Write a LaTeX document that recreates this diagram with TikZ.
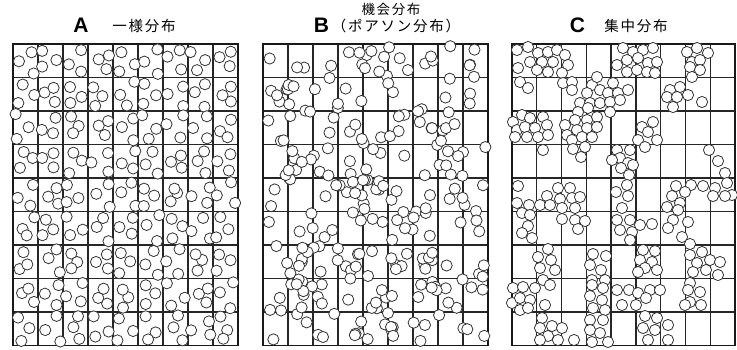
\documentclass[tikz,border=0pt]{standalone}
\usepackage{fontspec}
\newfontfamily\cjk{Noto Sans CJK JP}[LetterSpace=12]
\newfontfamily\lat{Liberation Sans}
\newcommand\panelgrid[2]{%
  \foreach \i in {1,...,8} \draw[gridline] ({#1+\i*#2},44) -- ({#1+\i*#2},345.5);
  \foreach \j in {1,...,8} \draw[gridline] (#1,{44+\j*33.5}) -- ({#1+9*#2},{44+\j*33.5});
  \draw[border] (#1,44) rectangle ({#1+9*#2},345.5);}
\begin{document}
\begin{tikzpicture}[x=1pt,y=-1pt,
  gridline/.style={line width=1.4pt,black!85},
  border/.style={line width=1.6pt,black!90},
  dot/.style={draw=black!80,line width=0.8pt,fill=white},
  letter/.style={inner sep=0pt,font=\lat\bfseries\fontsize{21}{21}\selectfont},
  jtitle/.style={inner sep=0pt,font=\cjk\fontsize{14.5}{15}\selectfont}]
\useasboundingbox (0,0) rectangle (737,349);
% titles
\node[letter] (tA) at (81,25.5) {A};
\node[jtitle] (jA) at (144,26) {一様分布};
\node[jtitle,font=\cjk\fontsize{13.5}{14}\selectfont] (jB1) at (391,9.5) {機会分布};
\node[letter] (tB) at (321.5,25.5) {B};
\node[jtitle] (jB2) at (396,25.5) {（ポアソン分布）};
\node[letter] (tC) at (577.5,25.5) {C};
\node[jtitle] (jC) at (636,26) {集中分布};
% grids
\panelgrid{13}{25}
\panelgrid{263}{25}
\panelgrid{512}{24.78}
% A: uniform (about three circles in every cell)
\pgfmathsetseed{4711}
\foreach \i in {0,...,8}{\foreach \j in {0,...,8}{
  \pgfmathsetmacro\fx{rnd<0.5?1:-1}
  \pgfmathsetmacro\fy{rnd<0.5?1:-1}
  \foreach \px/\py in {6.5/7,18/16.5,7.5/26}{
    \pgfmathsetmacro\cx{13+25*\i+12.5+\fx*(\px-12.5)+4*rand}
    \pgfmathsetmacro\cy{44+33.5*\j+16.75+\fy*(\py-16.75)+4*rand}
    \draw[dot] (\cx,\cy) circle[radius=5.6];}}}
% B: random (Poisson)
\foreach \k in {1,...,245}{
  \pgfmathsetmacro\cx{265+221*rnd}
  \pgfmathsetmacro\cy{46+297*rnd}
  \draw[dot] (\cx,\cy) circle[radius=5.6];}
% C: clustered
\foreach \p in {(517,50),(528,47),(538,53),(548,52),(557,50),(565,55),(530,62),(542,62),(553,62),(568,65),
  (518,68),(537,70),(548,72),(562,73),(520,82),(528,88),(563,83),(572,82),(572,90),
  (592,85),(597,77),(600,90),(587,93),(608,93),(613,83),(618,93),(628,90),(580,103),(590,103),
  (600,103),(610,102),(620,100),(578,112),(588,108),(597,117),(610,112),(587,120),
  (623,48),(633,52),(643,50),(653,48),(617,65),(627,60),(638,58),(648,63),(657,62),(627,72),
  (637,70),(647,72),(655,73),
  (687,52),(697,48),(708,53),(692,62),(700,60),(690,67),(700,70),(692,77),
  (670,90),(680,87),(667,97),(677,97),(688,95),(673,107),(702,102),
  (513,122),(522,115),(530,118),(543,117),(517,130),(525,127),(535,128),(547,125),(515,137),
  (527,137),(538,137),(548,135),
  (565,125),(575,120),(567,135),(577,130),(587,128),(597,127),(572,140),(582,137),(592,137),
  (653,122),(642,127),(648,132),(638,140),(657,140),
  (543,150),(573,149),(585,147),(581,157),
  (617,150),(630,150),(620,158),(612,160),(628,163),(621,168),(633,165),(629,175),(645,147),
  (709,150),(718,161),(725,173),
  (518,186),(517,203),(529,205),(522,213),(530,215),(528,226),(522,233),(532,238),
  (558,188),(570,188),(547,196),(560,199),(572,198),(580,197),(540,205),(550,205),(562,208),
  (575,208),(562,219),(575,220),(585,221),(578,229),
  (627,185),(616,192),(628,196),(622,208),(617,220),(630,220),(620,230),(632,232),(630,240),
  (640,225),(652,224),
  (676,186),(691,185),(703,186),(715,188),(727,183),(732,195),(713,196),(725,196),(685,192),
  (672,196),(680,203),(667,207),(678,210),(673,220),(688,222),(668,228),(682,237),(690,244),
  (548,249),(538,257),(551,260),(540,268),(555,270),(543,280),(550,285),
  (593,254),(606,256),(590,265),(601,270),(592,280),(605,280),
  (643,250),(655,251),(640,260),(652,262),(645,268),(638,272),(657,270),
  (690,255),(702,252),(697,263),(710,260),(720,262),(693,272),(706,270),(718,275),(690,283),
  (513,288),(523,287),(535,288),(512,303),(520,298),(530,300),(520,310),(528,308),(545,305),
  (592,285),(603,288),(590,296),(602,300),(593,308),(605,310),
  (617,290),(629,290),(638,293),(650,290),(622,305),(636,305),(646,298),(660,290),
  (688,290),(700,292),(690,302),(701,305),(685,305),
  (542,318),(540,328),(552,326),(548,336),(540,340),(558,340),(562,328),(574,340),
  (590,320),(603,320),(590,330),(600,333),(592,342),(608,342),
  (645,316),(657,318),(643,328),(655,330),(648,340),(668,325),(668,340)}{
  \draw[dot] \p circle[radius=5.6];}
\end{tikzpicture}
\end{document}
